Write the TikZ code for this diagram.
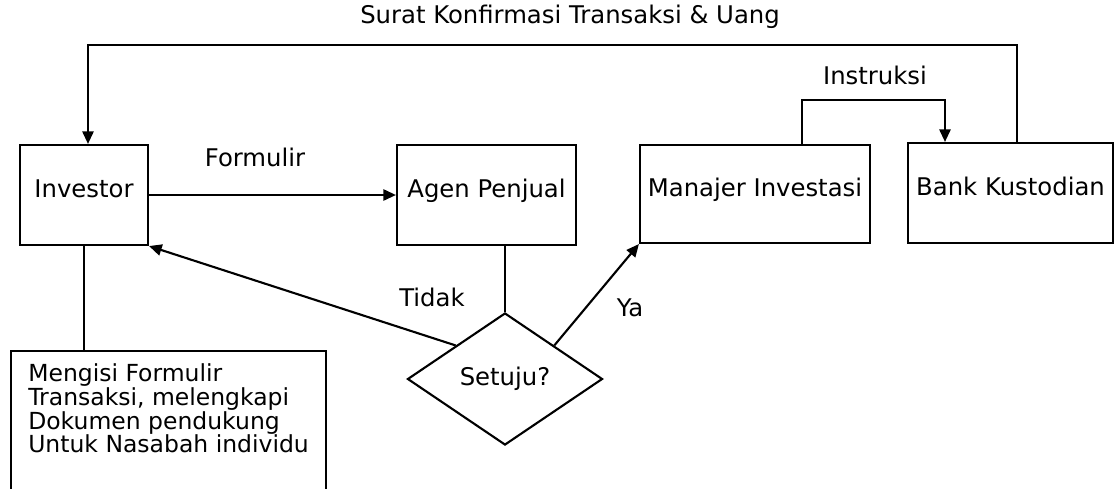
\documentclass[tikz,border=0pt]{standalone}
\usepackage{fontspec}
\setmainfont{DejaVu Sans}
\usetikzlibrary{arrows.meta,shapes.geometric}

\begin{document}
\begin{tikzpicture}[x=0.025cm, y=-0.025cm, line width=1.5pt,
    every node/.style={font=\fontsize{17.3}{16.7}\selectfont, line width=1.5pt},
    box/.style={draw, minimum height=71.1pt, text depth=9pt, inner sep=0pt},
    arr/.style={-{Triangle[length=9pt,width=8pt]}}]
    \clip (0,0) rectangle (1114,488);

    \node[box, minimum width=91pt] (inv) at (84,195) {Investor};
    \node[box, minimum width=127.3pt] (agen) at (486.5,195) {Agen Penjual};
    \node[box, minimum width=163.6pt, minimum height=69.7pt] (mi) at (755,194) {Manajer Investasi};
    \node[box, minimum width=145.8pt] (bk) at (1010.5,193) {Bank Kustodian};
    \node[draw, diamond, minimum width=138.7pt, minimum height=93.9pt, inner sep=0pt] (dia) at (505,379) {Setuju?};
    \node[draw, anchor=north west, align=left, minimum width=224pt, inner ysep=9pt,
        font=\fontsize{16.7}{16.9}\selectfont] (note) at (10,350)
        {Mengisi Formulir\\ Transaksi, melengkapi\\ Dokumen pendukung\\ Untuk Nasabah individu\\[30pt]\mbox{}};

    \node (lblTop) at (570,17) {Surat Konfirmasi Transaksi \& Uang};
    \node (lblForm) at (255,157) {Formulir};
    \node (lblIns) at (875,75) {Instruksi};
    \node (lblTidak) at (432,297) {Tidak};
    \node (lblYa) at (630,308) {Ya};

    \coordinate (topR) at (1017,45);
    \coordinate (topL) at (88,45);
    \coordinate (insL) at (802,100);
    \coordinate (insR) at (945,100);

    \draw[arr] (bk.north -| topR) -- (topR) -- (topL) -- (inv.north -| topL);
    \draw[arr] (mi.north -| insL) -- (insL) -- (insR) -- (bk.north -| insR);
    \draw[arr] (inv.east) -- (agen.west);
    \draw (agen.south -| dia.north) -- (dia.north);
    \draw[arr] (dia.north west) -- (inv.south east);
    \draw[arr] (dia.north east) -- (mi.south west);
    \draw (inv.south) -- (note.north -| inv.south);
\end{tikzpicture}
\end{document}
